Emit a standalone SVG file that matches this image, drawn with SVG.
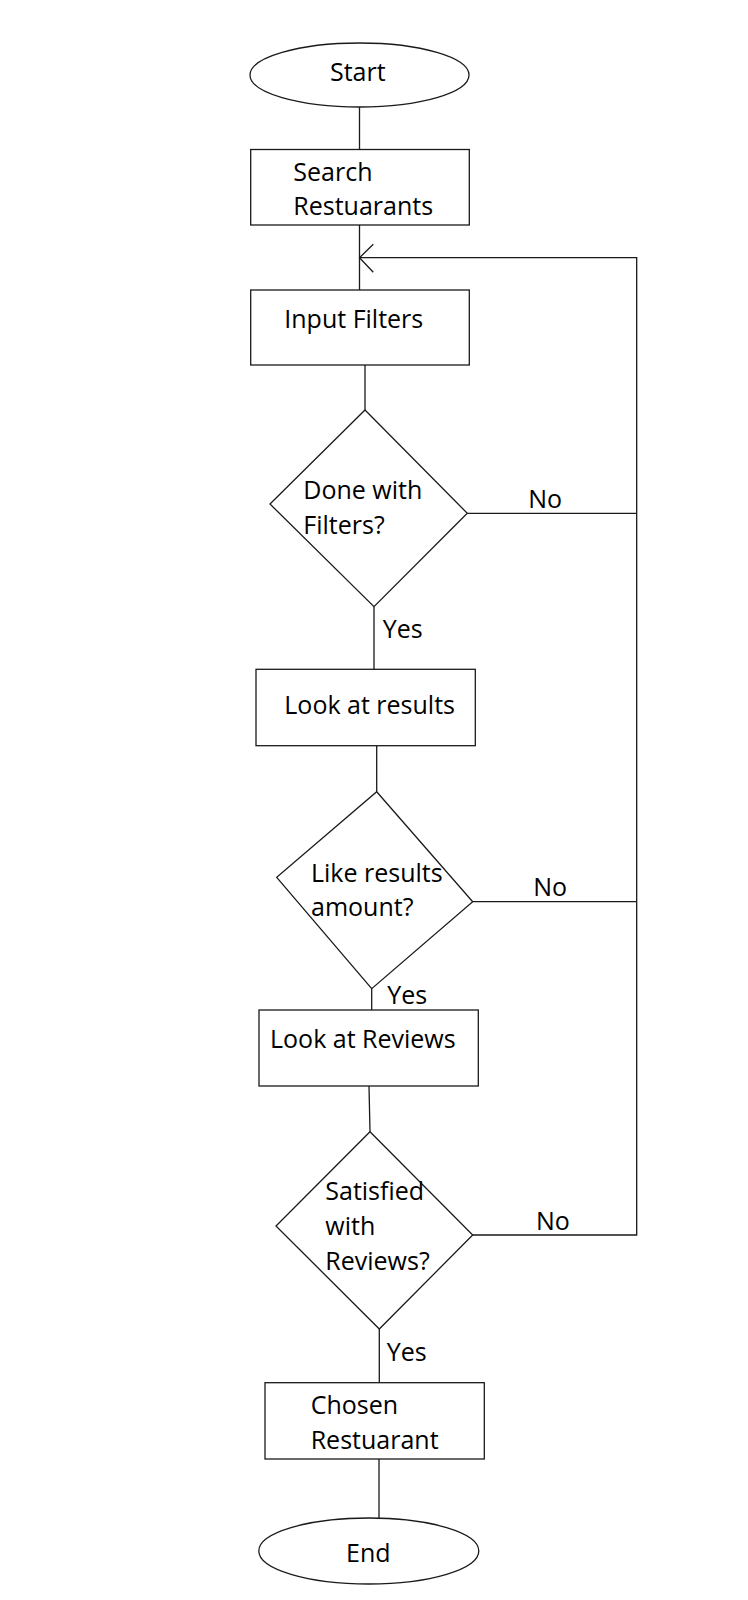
<svg xmlns="http://www.w3.org/2000/svg" width="748" height="1600" viewBox="0 0 748 1600">
  <style>
    .shape { fill: #fff; stroke: #1a1a1a; stroke-width: 1.3; }
    .wire { fill: none; stroke: #1a1a1a; stroke-width: 1.3; }
    text { font-family: "Open Sans", "Liberation Sans", sans-serif; font-size: 25px; fill: #000; }
  </style>
  <rect width="748" height="1600" fill="#fff"/>

  <!-- connectors -->
  <g id="connectors">
    <line class="wire" x1="359.5" y1="107" x2="359.5" y2="149.5"/>
    <line class="wire" x1="359.5" y1="225" x2="359.5" y2="290"/>
    <line class="wire" x1="365" y1="365" x2="365" y2="410"/>
    <line class="wire" x1="374" y1="606.7" x2="374" y2="669.3"/>
    <line class="wire" x1="376.7" y1="745.7" x2="376.7" y2="791.7"/>
    <line class="wire" x1="371.7" y1="988.7" x2="371.7" y2="1010"/>
    <line class="wire" x1="369" y1="1086" x2="370" y2="1131.7"/>
    <line class="wire" x1="379.3" y1="1329" x2="379.3" y2="1382.7"/>
    <line class="wire" x1="379" y1="1459" x2="379" y2="1518.3"/>
    <!-- "No" branches back to the filter step -->
    <polyline class="wire" points="472.7,1235 636.7,1235 636.7,257.7 359.5,257.7"/>
    <line class="wire" x1="467.3" y1="513.3" x2="636.7" y2="513.3"/>
    <line class="wire" x1="472.7" y1="901.7" x2="636.7" y2="901.7"/>
    <polyline class="wire" points="373.3,244.3 359.5,257.7 373.3,272.3"/>
    <text x="528.3" y="508.3">No</text>
    <text x="533.3" y="895.7">No</text>
    <text x="536" y="1230">No</text>
    <text x="382.7" y="637.7">Yes</text>
    <text x="387.3" y="1004.3">Yes</text>
    <text x="386.7" y="1360.7">Yes</text>
  </g>

  <g id="start">
    <ellipse class="shape" cx="359.5" cy="75" rx="109.5" ry="32"/>
    <text x="330" y="80.7">Start</text>
  </g>

  <g id="search">
    <rect class="shape" x="250.7" y="149.5" width="218.6" height="75.5"/>
    <text x="293.3" y="180.7">Search</text>
    <text x="293.3" y="215">Restuarants</text>
  </g>

  <g id="input-filters">
    <rect class="shape" x="250.7" y="290" width="218.6" height="75"/>
    <text x="284.3" y="327.7">Input Filters</text>
  </g>

  <g id="done-filters">
    <polygon class="shape" points="365,410 467.3,513.3 374,606.7 270,504"/>
    <text x="303.3" y="499">Done with</text>
    <text x="303.3" y="534.3">Filters?</text>
  </g>

  <g id="look-results">
    <rect class="shape" x="256" y="669.3" width="219.3" height="76.4"/>
    <text x="284.3" y="714.3">Look at results</text>
  </g>

  <g id="like-amount">
    <polygon class="shape" points="376.7,791.7 472.7,901.7 371.7,988.7 276.7,877.3"/>
    <text x="311" y="881.7">Like results</text>
    <text x="311" y="916">amount?</text>
  </g>

  <g id="look-reviews">
    <rect class="shape" x="259" y="1010" width="219.3" height="76"/>
    <text x="270" y="1047.7">Look at Reviews</text>
  </g>

  <g id="satisfied">
    <polygon class="shape" points="370,1131.7 472.7,1235 379.3,1329 276,1226"/>
    <text x="325.3" y="1200">Satisfied</text>
    <text x="325.3" y="1235">with</text>
    <text x="325.3" y="1270">Reviews?</text>
  </g>

  <g id="chosen">
    <rect class="shape" x="265" y="1382.7" width="219.3" height="76.3"/>
    <text x="310.7" y="1414">Chosen</text>
    <text x="310.7" y="1449">Restuarant</text>
  </g>

  <g id="end">
    <ellipse class="shape" cx="368.8" cy="1551" rx="110" ry="33"/>
    <text x="346" y="1561.7">End</text>
  </g>
</svg>
